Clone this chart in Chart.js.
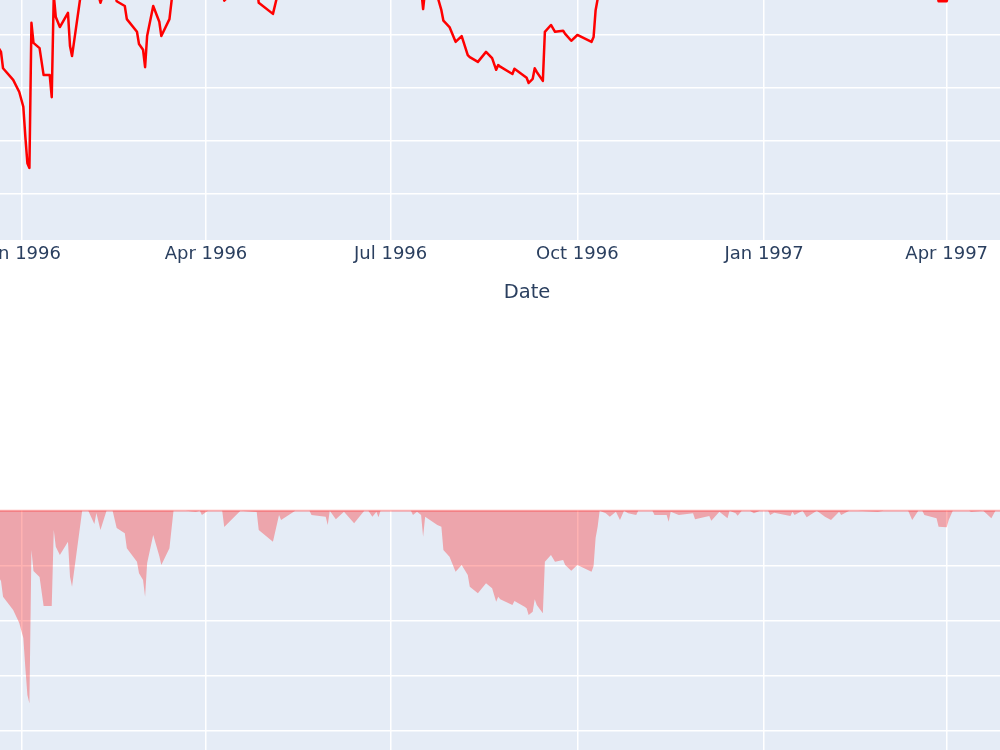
<!DOCTYPE html>
<html>
<head>
<meta charset="utf-8">
<script src="https://cdn.jsdelivr.net/npm/chart.js@4.4.1/dist/chart.umd.min.js"></script>
<style>
  html, body { margin:0; padding:0; background:#ffffff; width:1000px; height:750px; overflow:hidden; position:relative; }
  canvas { position:absolute; display:block; }
  #top { left:-100px; top:0px; }
  #bot { left:-100px; top:509px; }
</style>
</head>
<body>
<canvas id="top" width="1254" height="320"></canvas>
<canvas id="bot" width="1254" height="301"></canvas>
<script>
// ---------------- data ----------------
const dates = [
  '1995-12-20','1995-12-22','1995-12-23','1995-12-28','1995-12-31',
  '1996-01-02','1996-01-03','1996-01-04','1996-01-05','1996-01-06','1996-01-07','1996-01-10','1996-01-12','1996-01-15','1996-01-16','1996-01-17','1996-01-18','1996-01-20','1996-01-24','1996-01-25','1996-01-26','1996-01-31',
  '1996-02-03','1996-02-06','1996-02-07','1996-02-09','1996-02-12','1996-02-15','1996-02-17','1996-02-21','1996-02-22','1996-02-27','1996-02-28',
  '1996-03-01','1996-03-02','1996-03-03','1996-03-06','1996-03-09','1996-03-10','1996-03-14','1996-03-16','1996-03-22','1996-03-27','1996-03-29','1996-03-30',
  '1996-04-02','1996-04-09','1996-04-10','1996-04-18','1996-04-24','1996-04-26','1996-04-27',
  '1996-05-04','1996-05-07','1996-05-08','1996-05-15','1996-05-22','1996-05-23','1996-05-30','1996-05-31',
  '1996-06-01','1996-06-04','1996-06-08','1996-06-13','1996-06-18','1996-06-20','1996-06-22','1996-06-24','1996-06-25','1996-06-26',
  '1996-07-11','1996-07-12','1996-07-14','1996-07-16','1996-07-17','1996-07-18','1996-07-24','1996-07-26','1996-07-27','1996-07-30',
  '1996-08-02','1996-08-05','1996-08-08','1996-08-09','1996-08-13','1996-08-17','1996-08-20','1996-08-22','1996-08-23','1996-08-24','1996-08-30','1996-08-31',
  '1996-09-05','1996-09-06','1996-09-07','1996-09-09','1996-09-10','1996-09-11','1996-09-14','1996-09-15','1996-09-18','1996-09-20','1996-09-24','1996-09-25','1996-09-28',
  '1996-10-01','1996-10-08','1996-10-09','1996-10-10','1996-10-11','1996-10-12','1996-10-15','1996-10-17','1996-10-20','1996-10-22','1996-10-24','1996-10-26','1996-10-30','1996-10-31',
  '1996-11-07','1996-11-08','1996-11-14','1996-11-15','1996-11-16','1996-11-20','1996-11-27','1996-11-28',
  '1996-12-05','1996-12-06','1996-12-10','1996-12-14','1996-12-15','1996-12-18','1996-12-19','1996-12-21','1996-12-25','1996-12-27','1996-12-30',
  '1997-01-03','1997-01-04','1997-01-06','1997-01-14','1997-01-15','1997-01-16','1997-01-20','1997-01-22','1997-01-27','1997-01-31',
  '1997-02-03','1997-02-07','1997-02-08','1997-02-12','1997-02-16','1997-02-26',
  '1997-03-01','1997-03-13','1997-03-15','1997-03-18','1997-03-20','1997-03-21','1997-03-27','1997-03-28',
  '1997-04-01','1997-04-02','1997-04-04','1997-04-12','1997-04-13','1997-04-19','1997-04-23','1997-04-25','1997-05-02'
];
const equity = [
  1.881,1.868,1.837,1.815,1.792,
  1.764,1.707,1.657,1.648,1.923,1.885,1.875,1.824,1.824,1.782,1.976,1.934,1.915,1.942,1.879,1.860,1.996,
  1.996,1.972,1.991,1.961,1.996,1.996,1.964,1.955,1.930,1.906,1.883,
  1.872,1.839,1.898,1.955,1.925,1.898,1.930,1.996,1.996,1.994,1.996,1.988,
  1.996,1.996,1.965,1.996,1.994,1.993,1.961,
  1.940,1.988,1.979,1.996,1.996,1.988,1.985,1.970,
  1.996,1.980,1.994,1.975,1.996,1.996,1.985,1.994,1.984,1.996,
  1.996,1.988,1.994,1.988,1.949,1.985,1.974,1.947,1.927,1.915,
  1.887,1.898,1.862,1.858,1.849,1.868,1.856,1.834,1.843,1.840,1.826,1.836,
  1.822,1.819,1.809,1.817,1.837,1.830,1.813,1.906,1.919,1.906,1.908,1.902,1.889,
  1.900,1.887,1.896,1.947,1.968,1.996,1.991,1.985,1.994,1.979,1.996,1.991,1.988,1.996,
  1.996,1.988,1.988,1.976,1.994,1.988,1.991,1.980,
  1.986,1.978,1.994,1.982,1.996,1.991,1.987,1.996,1.996,1.991,1.996,
  1.996,1.988,1.992,1.986,1.994,1.988,1.996,1.984,1.996,1.985,
  1.979,1.994,1.988,1.996,1.996,1.994,
  1.996,1.996,1.979,1.996,1.996,1.988,1.982,1.964,
  1.964,1.979,1.996,1.996,1.994,1.996,1.982,1.996,1.996
];
const drawdown = [
  -0.0574,-0.0638,-0.0780,-0.0901,-0.1019,
  -0.1155,-0.1427,-0.1672,-0.1750,-0.0357,-0.0547,-0.0602,-0.0865,-0.0865,-0.0865,-0.0175,-0.0327,-0.0402,-0.0281,-0.0599,-0.0690,0,
  0,-0.0121,-0.0021,-0.0175,0,0,-0.0157,-0.0205,-0.0341,-0.0463,-0.0568,
  -0.0629,-0.0780,-0.0477,-0.0221,-0.0411,-0.0493,-0.0341,0,0,-0.0009,0,-0.0039,
  0,0,-0.0148,0,-0.0009,-0.0012,-0.0175,
  -0.0281,-0.0039,-0.0084,0,0,-0.0039,-0.0054,-0.0130,
  0,-0.0078,-0.0009,-0.0114,0,0,-0.0054,-0.0009,-0.0060,0,
  0,-0.0039,-0.0009,-0.0039,-0.0236,-0.0054,-0.0130,-0.0145,-0.0357,-0.0417,
  -0.0554,-0.0493,-0.0583,-0.0690,-0.0750,-0.0659,-0.0704,-0.0826,-0.0780,-0.0804,-0.0856,-0.0819,
  -0.0871,-0.0886,-0.0946,-0.0917,-0.0804,-0.0856,-0.0931,-0.0463,-0.0402,-0.0463,-0.0447,-0.0493,-0.0544,
  -0.0493,-0.0554,-0.0502,-0.0248,-0.0145,0,-0.0024,-0.0054,-0.0009,-0.0084,0,-0.0024,-0.0039,0,
  0,-0.0039,-0.0039,-0.0100,-0.0009,-0.0039,-0.0024,-0.0078,
  -0.0048,-0.0091,-0.0009,-0.0069,0,-0.0024,-0.0045,0,0,-0.0024,0,
  0,-0.0039,-0.0018,-0.0048,-0.0009,-0.0039,0,-0.0060,0,-0.0054,
  -0.0084,-0.0009,-0.0039,0,0,-0.0009,
  0,0,-0.0084,0,0,-0.0039,-0.0069,-0.0145,
  -0.0151,-0.0084,0,0,-0.0009,0,-0.0069,0,0
];
const tickDates  = ['1996-01-01','1996-04-01','1996-07-01','1996-10-01','1997-01-01','1997-04-01'];
const tickLabels = ['Jan 1996','Apr 1996','Jul 1996','Oct 1996','Jan 1997','Apr 1997'];
const equityGrid   = [1.6, 1.7, 1.8, 1.9];
const drawdownGrid = [-0.25, -0.2, -0.15, -0.1, -0.05, 0];

// ---------------- helpers ----------------
function toDay(s){ const p = s.split('-').map(Number); return (Date.UTC(p[0],p[1]-1,p[2]) - Date.UTC(1996,0,1)) / 864e5; }
const xs = dates.map(toDay);
const tickDays = tickDates.map(toDay);
const X_MIN = -59.77, X_MAX = 558.15;

Chart.defaults.font.family = 'DejaVu Sans';
Chart.defaults.color = '#2a3f5f';

const bgPlugin = {
  id: 'bgArea',
  beforeDraw(chart, args, opts) {
    const a = chart.chartArea, ctx = chart.ctx;
    const y0 = opts.fromZero ? chart.scales.y.getPixelForValue(0) : a.top;
    ctx.save();
    ctx.fillStyle = '#E5ECF6';
    ctx.fillRect(a.left, y0, a.right - a.left, a.bottom - y0);
    ctx.restore();
  },
  afterDatasetsDraw(chart, args, opts) {
    if (!opts.zeroLine) return;
    const a = chart.chartArea, ctx = chart.ctx;
    const y0 = chart.scales.y.getPixelForValue(0);
    ctx.save();
    ctx.strokeStyle = 'rgba(255,0,0,0.3)';
    ctx.lineWidth = 2;
    ctx.beginPath(); ctx.moveTo(a.left, y0); ctx.lineTo(a.right, y0); ctx.stroke();
    ctx.restore();
  }
};

const xAxisBase = {
  type: 'linear', min: X_MIN, max: X_MAX, bounds: 'data',
  afterBuildTicks: s => { s.ticks = tickDays.map(v => ({ value: v })); },
  grid: { color: '#ffffff', lineWidth: 1.5, drawTicks: false },
  border: { display: false }
};

new Chart(document.getElementById('top'), {
  type: 'line',
  data: { datasets: [{
    data: xs.map((x, i) => ({ x: x, y: equity[i] })),
    borderColor: '#ff0000', borderWidth: 2.5, borderJoinStyle: 'round', borderCapStyle: 'round',
    pointRadius: 0, fill: false, tension: 0
  }]},
  options: {
    responsive: false, animation: false, devicePixelRatio: 1,
    layout: { padding: 0 },
    plugins: { legend: { display: false }, tooltip: { enabled: false }, bgArea: { fromZero: false } },
    scales: {
      x: Object.assign({}, xAxisBase, {
        ticks: { color: '#2a3f5f', font: { size: 18 }, padding: 4, autoSkip: false, maxRotation: 0, minRotation: 0,
                 callback: v => tickLabels[tickDays.indexOf(v)] },
        title: { display: true, text: 'Date', color: '#2a3f5f', font: { size: 19.5 }, padding: { top: 0, bottom: 15 } },
        afterFit: s => { s.height = 80; }
      }),
      y: {
        type: 'linear', min: 1.5115, max: 1.9663, bounds: 'data',
        afterBuildTicks: s => { s.ticks = equityGrid.map(v => ({ value: v })); },
        ticks: { display: false },
        grid: { color: '#ffffff', lineWidth: 1.5, drawTicks: false },
        border: { display: false },
        afterFit: s => { s.width = 0; }
      }
    }
  },
  plugins: [bgPlugin]
});

new Chart(document.getElementById('bot'), {
  type: 'line',
  data: { datasets: [{
    data: xs.map((x, i) => ({ x: x, y: drawdown[i] })),
    borderWidth: 0, borderColor: 'rgba(255,0,0,0)', backgroundColor: 'rgba(255,0,0,0.3)',
    pointRadius: 0, fill: 'origin', tension: 0
  }]},
  options: {
    responsive: false, animation: false, devicePixelRatio: 1,
    layout: { padding: 0 },
    plugins: { legend: { display: false }, tooltip: { enabled: false }, bgArea: { fromZero: true, zeroLine: true } },
    scales: {
      x: Object.assign({}, xAxisBase, {
        ticks: { display: false },
        afterFit: s => { s.height = 0; }
      }),
      y: {
        type: 'linear', min: -0.2716, max: 0.00154, bounds: 'data',
        afterBuildTicks: s => { s.ticks = drawdownGrid.map(v => ({ value: v })); },
        ticks: { display: false },
        grid: { color: ctx => (ctx.tick && ctx.tick.value === 0) ? 'rgba(0,0,0,0)' : '#ffffff', lineWidth: 1.5, drawTicks: false },
        border: { display: false },
        afterFit: s => { s.width = 0; }
      }
    }
  },
  plugins: [bgPlugin]
});
</script>
</body>
</html>
